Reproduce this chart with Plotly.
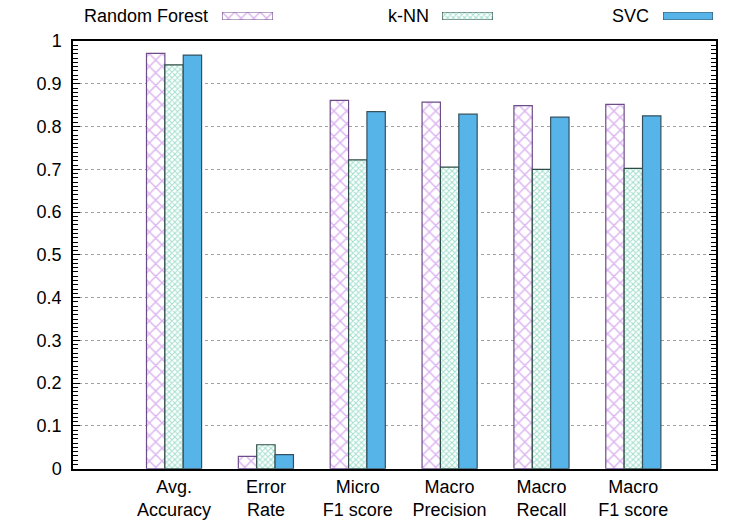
import plotly.graph_objects as go

# ---------------- data ----------------
categories = ["Avg.<br>Accuracy", "Error<br>Rate", "Micro<br>F1 score",
              "Macro<br>Precision", "Macro<br>Recall", "Macro<br>F1 score"]
series_names = ["Random Forest", "k-NN", "SVC"]
random_forest = [0.971, 0.029, 0.861, 0.857, 0.849, 0.852]
knn = [0.944, 0.056, 0.722, 0.705, 0.700, 0.702]
svc = [0.967, 0.033, 0.835, 0.829, 0.822, 0.825]
y_tick_values = [0, 0.1, 0.2, 0.3, 0.4, 0.5, 0.6, 0.7, 0.8, 0.9, 1]
y_tick_labels = ["0", "0.1", "0.2", "0.3", "0.4", "0.5", "0.6", "0.7", "0.8", "0.9", "1"]

# ---------------- styles ----------------
FONT = "Liberation Sans, Arial, Helvetica, sans-serif"
W, H = 750, 525
styles = [
    dict(color="white",
         pattern=dict(shape="x", size=9, solidity=0.3, fgcolor="#b86ae2",
                      bgcolor="white", fillmode="overlay"),
         line=dict(color="#6e4c88", width=1.2)),
    dict(color="white",
         pattern=dict(shape="x", size=4, solidity=0.45, fgcolor="#45bf9a",
                      bgcolor="white", fillmode="overlay"),
         line=dict(color="#2c4c46", width=1.2)),
    dict(color="#56b4e9", line=dict(color="#34505f", width=1.2)),
]
values = [random_forest, knn, svc]

# plot area in pixels
px_left, px_right, px_top, px_bottom = 73, 716, 41, 468.7

fig = go.Figure()
for name, vals, st in zip(series_names, values, styles):
    fig.add_trace(go.Bar(x=categories, y=vals, name=name, marker=st,
                         showlegend=False))

# legend (gnuplot style: text then swatch)
legend_text_right = [210, 431, 651]
legend_swatch = [(222, 273), (442, 493), (663, 713)]
sw_y0, sw_y1 = 12, 20
annotations = []
for i, (name, st, tr, (s0, s1)) in enumerate(zip(series_names, styles,
                                                    legend_text_right, legend_swatch)):
    k = i + 2
    fig.add_trace(go.Bar(x=[1], y=[0], orientation="h", width=[1], base=0,
                         marker=st, showlegend=False, hoverinfo="skip",
                         cliponaxis=False,
                         xaxis=f"x{k}", yaxis=f"y{k}"))
    fig.layout[f"xaxis{k}"] = dict(domain=[s0 / W, s1 / W], range=[0, 1],
                                   visible=False, anchor=f"y{k}", fixedrange=True,
                                   automargin=False)
    fig.layout[f"yaxis{k}"] = dict(domain=[(H - sw_y1) / H, (H - sw_y0) / H],
                                   range=[-0.5, 0.5], visible=False,
                                   anchor=f"x{k}", fixedrange=True,
                                   automargin=False)
    annotations.append(dict(text=name, x=tr / W, y=(H - 16) / H, xref="paper",
                            yref="paper", xanchor="right", yanchor="middle",
                            showarrow=False, font=dict(size=18, color="black",
                                                       family=FONT)))

fig.update_layout(
    width=W, height=H,
    margin=dict(l=0, r=0, t=0, b=0, autoexpand=False),
    paper_bgcolor="white", plot_bgcolor="white",
    font=dict(family=FONT, size=18, color="black"),
    barmode="group", bargap=0.4, bargroupgap=0,
    annotations=annotations,
    showlegend=False,
    xaxis=dict(domain=[px_left / W, px_right / W], range=[-1.1, 5.9],
               showline=True, linecolor="black", linewidth=1.5, mirror=True,
               ticks="", showgrid=False, zeroline=False, automargin=False,
               tickfont=dict(size=18, color="black", family=FONT),
               ticklabelstandoff=1),
    yaxis=dict(domain=[(H - px_bottom) / H, (H - px_top) / H], range=[0, 1],
               tickmode="array", tickvals=y_tick_values, ticktext=y_tick_labels,
               showline=True, linecolor="black", linewidth=1.5, mirror="allticks",
               ticks="inside", ticklen=7, tickcolor="black", tickwidth=1.4,
               showgrid=True, gridcolor="#a0a0a0", griddash="dot", gridwidth=1,
               zeroline=False, automargin=False,
               minor=dict(tickmode="linear", tick0=0, dtick=0.01, ticks="inside",
                          ticklen=5, tickcolor="black", tickwidth=1.3,
                          showgrid=False),
               tickfont=dict(size=18, color="black", family=FONT),
               ticklabelstandoff=6),
)

fig.write_html("out.html")
